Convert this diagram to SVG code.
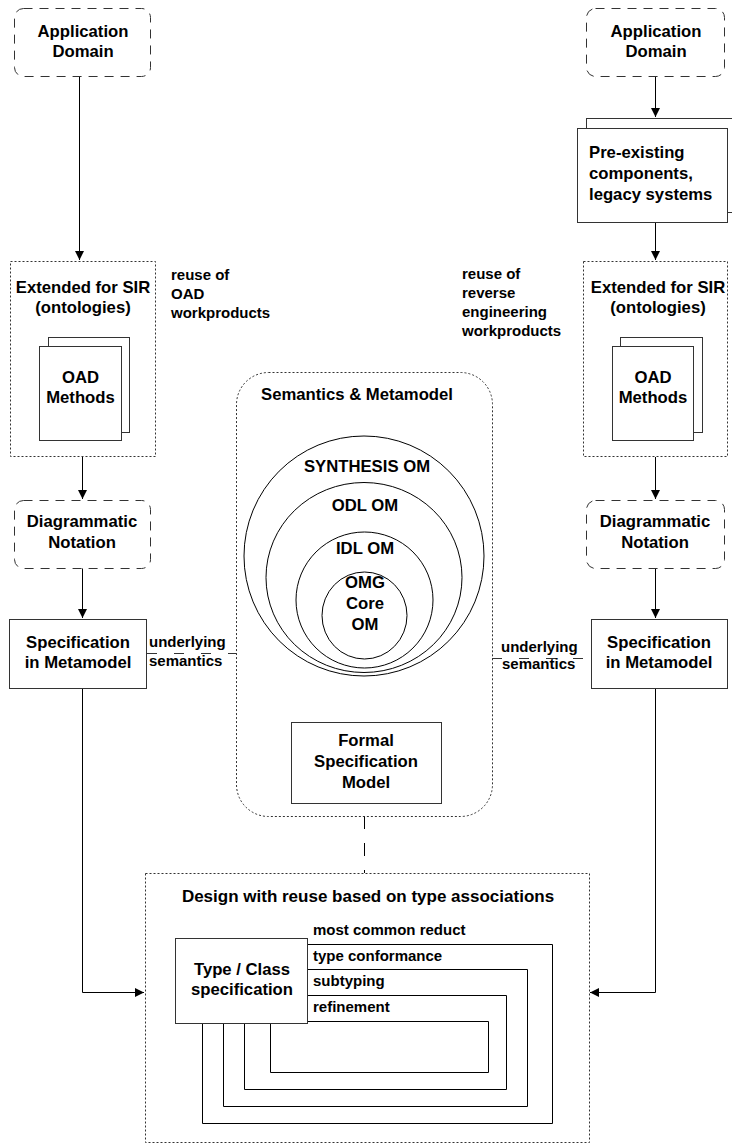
<svg xmlns="http://www.w3.org/2000/svg" width="732" height="1147" viewBox="0 0 732 1147">
  <style>
    .t { font-family: "Liberation Sans", Arial, sans-serif; font-weight: bold; font-size: 16.7px; text-anchor: middle; fill: #000; }
    .s { font-family: "Liberation Sans", Arial, sans-serif; font-weight: bold; font-size: 15px; text-anchor: start; fill: #000; }
    .box { fill: #fff; stroke: #333; stroke-width: 1; }
    .dash { fill: #fff; stroke: #333; stroke-width: 1; stroke-dasharray: 9 7; }
    .dot { fill: none; stroke: #333; stroke-width: 1; stroke-dasharray: 2 2; }
    .ln { fill: none; stroke: #000; stroke-width: 1; }
    .arr { fill: none; stroke: #000; stroke-width: 1; marker-end: url(#ah); }
    .sem { fill: none; stroke: #333; stroke-width: 1; stroke-dasharray: 10 17; }
  </style>
  <defs>
    <marker id="ah" viewBox="0 0 10 10" refX="10" refY="5" markerWidth="10" markerHeight="9" markerUnits="userSpaceOnUse" orient="auto">
      <path d="M0,0 L10,5 L0,10 z" fill="#000"/>
    </marker>
  </defs>

  <!-- connectors -->
  <g id="connectors">
    <path class="arr" d="M79.5,77 V260"/>
    <path class="arr" d="M82.5,457 V499"/>
    <path class="arr" d="M82.5,568 V618"/>
    <path class="arr" d="M82.5,688 V992.5 H144"/>
    <path class="arr" d="M655.5,77 V117"/>
    <path class="arr" d="M655.5,222 V260"/>
    <path class="arr" d="M655.5,457 V499"/>
    <path class="arr" d="M655.5,568 V618"/>
    <path class="arr" d="M655.5,688 V992.5 H590"/>
    <path class="sem" d="M147,653.5 H236"/>
    <path class="sem" d="M492,658.5 H591"/>
    <path class="ln" d="M364.5,816 V873" stroke-dasharray="13 14"/>
  </g>

  <!-- left column -->
  <g id="app-domain-left">
    <rect class="dash" x="14.5" y="8.5" width="136" height="68" rx="9"/>
    <text class="t" x="83" y="37">Application</text>
    <text class="t" x="83" y="57">Domain</text>
  </g>

  <g id="extended-left">
    <rect class="dot" x="10.5" y="261.5" width="145" height="195"/>
    <text class="t" x="83" y="293">Extended for SIR</text>
    <text class="t" x="83" y="313">(ontologies)</text>
    <rect class="box" x="48.5" y="337.5" width="81" height="95"/>
    <rect class="box" x="39.5" y="346.5" width="82" height="94"/>
    <text class="t" x="80.5" y="383">OAD</text>
    <text class="t" x="80.5" y="403">Methods</text>
  </g>

  <g id="reuse-oad">
    <text class="s" x="171" y="280">reuse of</text>
    <text class="s" x="171" y="299">OAD</text>
    <text class="s" x="171" y="318">workproducts</text>
  </g>

  <g id="notation-left">
    <rect class="dash" x="14.5" y="500.5" width="136" height="68" rx="9"/>
    <text class="t" x="82" y="527">Diagrammatic</text>
    <text class="t" x="82" y="548">Notation</text>
  </g>

  <g id="spec-left">
    <rect class="box" x="9.5" y="619.5" width="137" height="69"/>
    <text class="t" x="78" y="648">Specification</text>
    <text class="t" x="78" y="668">in Metamodel</text>
  </g>

  <g id="semantics-left-label">
    <text class="s" x="149" y="647">underlying</text>
    <text class="s" x="149" y="666">semantics</text>
  </g>

  <!-- right column -->
  <g id="app-domain-right">
    <rect class="dash" x="586.5" y="8.5" width="138" height="68" rx="9"/>
    <text class="t" x="656" y="37">Application</text>
    <text class="t" x="656" y="57">Domain</text>
  </g>

  <g id="pre-existing">
    <rect class="box" x="586.5" y="118.5" width="160" height="94"/>
    <rect class="box" x="577.5" y="128.5" width="150" height="94"/>
    <text class="s" x="589" y="158" style="font-size:16.7px">Pre-existing</text>
    <text class="s" x="589" y="179" style="font-size:16.7px">components,</text>
    <text class="s" x="589" y="200" style="font-size:16.7px">legacy systems</text>
  </g>

  <g id="reuse-reverse">
    <text class="s" x="462" y="279">reuse of</text>
    <text class="s" x="462" y="298">reverse</text>
    <text class="s" x="462" y="317">engineering</text>
    <text class="s" x="462" y="336">workproducts</text>
  </g>

  <g id="extended-right">
    <rect class="dot" x="583.5" y="261.5" width="144" height="195"/>
    <text class="t" x="658" y="293">Extended for SIR</text>
    <text class="t" x="658" y="313">(ontologies)</text>
    <rect class="box" x="620.5" y="337.5" width="82" height="95"/>
    <rect class="box" x="612.5" y="346.5" width="81" height="94"/>
    <text class="t" x="653" y="383">OAD</text>
    <text class="t" x="653" y="403">Methods</text>
  </g>

  <g id="notation-right">
    <rect class="dash" x="586.5" y="500.5" width="138" height="68" rx="9"/>
    <text class="t" x="655" y="527">Diagrammatic</text>
    <text class="t" x="655" y="548">Notation</text>
  </g>

  <g id="spec-right">
    <rect class="box" x="591.5" y="619.5" width="136" height="69"/>
    <text class="t" x="659" y="648">Specification</text>
    <text class="t" x="659" y="668">in Metamodel</text>
  </g>

  <g id="semantics-right-label">
    <text class="s" x="501" y="652">underlying</text>
    <text class="s" x="502" y="669">semantics</text>
  </g>

  <!-- centre: semantics and metamodel -->
  <g id="semantics-metamodel">
    <rect class="dot" x="236.5" y="372.5" width="256" height="444" rx="32"/>
    <text class="t" x="357" y="400">Semantics &amp; Metamodel</text>
    <circle class="ln" cx="364" cy="556" r="120"/>
    <text class="t" x="367" y="472">SYNTHESIS OM</text>
    <ellipse class="ln" cx="364" cy="577.5" rx="98" ry="95"/>
    <text class="t" x="365" y="511">ODL OM</text>
    <ellipse class="ln" cx="364.5" cy="600" rx="68.5" ry="68"/>
    <text class="t" x="365" y="554">IDL OM</text>
    <ellipse class="ln" cx="364.5" cy="615.5" rx="42.5" ry="43.5"/>
    <text class="t" x="365" y="588">OMG</text>
    <text class="t" x="365" y="609">Core</text>
    <text class="t" x="365" y="630">OM</text>
  </g>

  <g id="formal-spec">
    <rect class="box" x="291.5" y="722.5" width="150" height="81"/>
    <text class="t" x="366" y="746">Formal</text>
    <text class="t" x="366" y="767">Specification</text>
    <text class="t" x="366" y="788">Model</text>
  </g>

  <!-- bottom: design with reuse -->
  <g id="design-reuse">
    <rect class="dot" x="145.5" y="873.5" width="444" height="269"/>
    <text class="t" x="368" y="902" style="font-size:17px">Design with reuse based on type associations</text>
    <text class="s" x="313" y="935">most common reduct</text>
    <path class="ln" d="M308,944.5 H552.5 V1123.5 H202.5 V1024"/>
    <text class="s" x="313" y="961">type conformance</text>
    <path class="ln" d="M308,969.5 H527.5 V1106.5 H223.5 V1024"/>
    <text class="s" x="313" y="986">subtyping</text>
    <path class="ln" d="M308,995.5 H506.5 V1089.5 H244.5 V1024"/>
    <text class="s" x="313" y="1012">refinement</text>
    <path class="ln" d="M308,1021.5 H488.5 V1072.5 H270.5 V1024"/>
  </g>

  <g id="type-class">
    <rect class="box" x="175.5" y="938.5" width="132" height="85"/>
    <text class="t" x="242" y="975">Type / Class</text>
    <text class="t" x="242" y="995">specification</text>
  </g>
</svg>
